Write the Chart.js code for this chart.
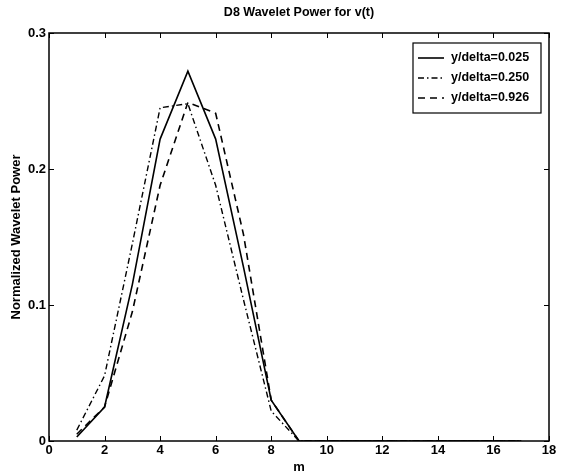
<!DOCTYPE html>
<html>
<head>
<meta charset="utf-8">
<script src="https://cdn.jsdelivr.net/npm/chart.js@4/dist/chart.umd.min.js"></script>
<style>
    html, body { margin: 0; padding: 0; background: #fff; }
    #wrap { width: 579px; height: 475px; }
</style>
</head>
<body>
<div id="wrap"><canvas id="chart" width="579" height="475"></canvas></div>
<script>
const mValues = [1, 2, 3, 4, 5, 6, 7, 8, 9, 10, 11, 12, 13, 14, 15, 16, 17];
const power025 = [0.003, 0.025, 0.115, 0.222, 0.272, 0.222, 0.128, 0.030, 0, 0, 0, 0, 0, 0, 0, 0, 0];
const power250 = [0.008, 0.048, 0.145, 0.245, 0.248, 0.188, 0.104, 0.022, 0, 0, 0, 0, 0, 0, 0, 0, 0];
const power926 = [0.005, 0.025, 0.095, 0.188, 0.249, 0.241, 0.152, 0.030, 0, 0, 0, 0, 0, 0, 0, 0, 0];
const seriesLabels = ["y/delta=0.025", "y/delta=0.250", "y/delta=0.926"];
const xTicks = [0, 2, 4, 6, 8, 10, 12, 14, 16, 18];
const yTicks = [0, 0.1, 0.2, 0.3];

const fontFamily = "'Liberation Sans', Arial, Helvetica, sans-serif";

function toPoints(values) {
    return values.map((v, i) => ({ x: mValues[i], y: v }));
}

// matlab style box with inward ticks + legend drawn inside the axes
const matlabBox = {
    id: 'matlabBox',
    afterDraw(chart) {
        const ctx = chart.ctx;
        const a = chart.chartArea;
        const xs = chart.scales.x;
        const ys = chart.scales.y;
        const tl = 5;
        ctx.save();
        ctx.strokeStyle = '#000';
        ctx.lineWidth = 1.5;
        ctx.setLineDash([]);
        ctx.strokeRect(a.left, a.top, a.right - a.left, a.bottom - a.top);
        ctx.lineWidth = 1;
        ctx.beginPath();
        xTicks.forEach(t => {
            let px = Math.round(xs.getPixelForValue(t)) + 0.5;
            ctx.moveTo(px, a.bottom); ctx.lineTo(px, a.bottom - tl);
            ctx.moveTo(px, a.top); ctx.lineTo(px, a.top + tl);
        });
        yTicks.forEach(t => {
            let py = Math.round(ys.getPixelForValue(t)) + 0.5;
            ctx.moveTo(a.left, py); ctx.lineTo(a.left + tl, py);
            ctx.moveTo(a.right, py); ctx.lineTo(a.right - tl, py);
        });
        ctx.stroke();

        // legend
        const bx = 413, by = 43, bw = 128, bh = 70;
        ctx.fillStyle = '#fff';
        ctx.fillRect(bx, by, bw, bh);
        ctx.lineWidth = 1.2;
        ctx.strokeRect(bx, by, bw, bh);
        ctx.font = "bold 12.5px " + fontFamily;
        ctx.textBaseline = 'middle';
        ctx.textAlign = 'left';
        chart.data.datasets.forEach((ds, i) => {
            let ly = by + 15 + i * 20;
            ctx.beginPath();
            ctx.lineWidth = ds.borderWidth;
            ctx.setLineDash(ds.borderDash || []);
            ctx.moveTo(bx + 5, ly);
            ctx.lineTo(bx + 31, ly);
            ctx.stroke();
            ctx.setLineDash([]);
            ctx.fillStyle = '#000';
            ctx.fillText(ds.label, bx + 38, ly);
        });
        ctx.restore();
    }
};

new Chart(document.getElementById('chart'), {
    type: 'line',
    data: {
        datasets: [
            { label: seriesLabels[0], data: toPoints(power025), borderColor: '#000', borderWidth: 1.6, borderDash: [], pointRadius: 0, tension: 0, fill: false },
            { label: seriesLabels[1], data: toPoints(power250), borderColor: '#000', borderWidth: 1.4, borderDash: [6, 3, 1.5, 3], pointRadius: 0, tension: 0, fill: false },
            { label: seriesLabels[2], data: toPoints(power926), borderColor: '#000', borderWidth: 1.6, borderDash: [7, 5], pointRadius: 0, tension: 0, fill: false }
        ]
    },
    options: {
        responsive: false,
        animation: false,
        layout: { padding: { left: 0, right: 30, top: 0, bottom: 0 } },
        plugins: {
            legend: { display: false },
            tooltip: { enabled: false },
            title: {
                display: true,
                fullSize: false,
                text: 'D8 Wavelet Power for v(t)',
                color: '#000',
                font: { family: fontFamily, size: 12.5, weight: 'bold' },
                padding: { top: 5, bottom: 13 }
            }
        },
        scales: {
            x: {
                type: 'linear',
                min: 0, max: 18,
                afterBuildTicks: s => { s.ticks = xTicks.map(v => ({ value: v })); },
                afterFit: s => { s.height = 34; },
                grid: { display: false, drawTicks: false },
                border: { display: false },
                ticks: { color: '#000', padding: 2, maxRotation: 0, font: { family: fontFamily, size: 13, weight: 'bold' } },
                title: { display: true, text: 'm', color: '#000', padding: 0, font: { family: fontFamily, size: 13, weight: 'bold' } }
            },
            y: {
                min: 0, max: 0.3,
                afterBuildTicks: s => { s.ticks = yTicks.map(v => ({ value: v })); },
                afterFit: s => { s.width = 49; },
                grid: { display: false, drawTicks: false },
                border: { display: false },
                ticks: { color: '#000', padding: 3, callback: v => String(Math.round(v * 10) / 10), font: { family: fontFamily, size: 13, weight: 'bold' } },
                title: { display: true, text: 'Normalized Wavelet Power', color: '#000', padding: { top: 9, bottom: 0 }, font: { family: fontFamily, size: 13, weight: 'bold' } }
            }
        }
    },
    plugins: [matlabBox]
});
</script>
</body>
</html>
